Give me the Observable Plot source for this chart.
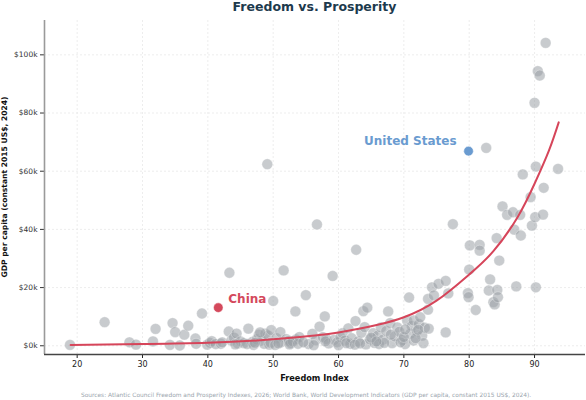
<!DOCTYPE html>
<html>
<head>
<meta charset="utf-8">
<script src="https://cdn.jsdelivr.net/npm/d3@7"></script>
<script src="https://cdn.jsdelivr.net/npm/@observablehq/plot@0.6"></script>
<style>
  html, body { margin: 0; padding: 0; background: #fff; }
  body { width: 586px; height: 400px; overflow: hidden; font-family: "DejaVu Sans", sans-serif; }
  #title { height: 12px; line-height: 13px; font-size: 12.5px; font-weight: bold; color: #1d3a4d;
           padding-left: 44px; padding-right: 1px; text-align: center; }
  #caption { height: 10px; line-height: 10px; font-size: 5.9px; color: #9aa5ae; text-align: center;
             padding-left: 26px; white-space: nowrap; }
  svg { display: block; }
</style>
</head>
<body>
<div id="title">Freedom vs. Prosperity</div>
<div id="chart"></div>
<div id="caption">Sources: Atlantic Council Freedom and Prosperity Indexes, 2026; World Bank, World Development Indicators (GDP per capita, constant 2015 US$, 2024).</div>
<script>
// Freedom Index score of each (unlabelled) country
const freedom = [
  18.9, 24.2, 28.0, 29.0, 31.6, 32.0, 34.2, 34.6, 35.0, 35.7, 36.4, 37.0, 38.1, 38.2, 39.1, 39.9,
  40.3, 40.6, 41.2, 42.0, 42.2, 43.2, 43.3, 43.6, 44.0, 44.4, 44.6, 45.0, 45.5, 46.2, 46.8, 47.5,
  47.8, 48.2, 48.6, 48.8, 49.2, 49.4, 49.7, 50.0, 49.1, 50.5, 51.1, 51.2, 51.6, 52.0, 52.4, 52.7,
  53.4, 53.5, 53.0, 54.0, 55.0, 55.4, 56.0, 56.5, 56.7, 57.1, 57.6, 57.9, 58.1, 58.5, 59.1, 59.3,
  59.8, 60.3, 60.6, 61.0, 61.5, 61.8, 62.0, 62.6, 62.7, 63.0, 63.5, 63.8, 64.0, 64.4, 64.2, 64.8,
  65.3, 65.5, 66.0, 66.5, 66.8, 67.3, 67.6, 67.9, 68.2, 68.6, 69.0, 69.3, 69.8, 70.2, 70.5, 70.8,
  71.0, 71.2, 71.5, 71.5, 72.0, 72.3, 72.5, 72.8, 73.0, 73.2, 73.7, 73.8, 73.7, 74.3, 74.6, 75.3,
  76.4, 76.4, 76.8, 77.5, 79.8, 79.9, 80.0, 80.1, 81.0, 81.6, 81.6, 82.6, 83.0, 83.2, 83.7, 83.9,
  84.2, 84.3, 84.4, 84.6, 85.1, 85.8, 86.7, 86.9, 87.2, 87.8, 87.9, 88.2, 89.4, 89.6, 90.0, 90.1,
  90.2, 90.2, 90.5, 90.8, 91.3, 91.4, 91.7, 93.6,
  44.2, 46.0, 47.0, 49.6, 50.3, 52.5, 53.8, 56.2, 58.0, 60.0, 61.2, 62.5, 63.3, 65.0, 66.2, 67.0,
  68.0, 69.5, 70.0, 71.8, 72.2, 70.2, 65.8, 54.6, 50.8, 48.0, 47.2
];
// GDP per capita, thousand constant 2015 US$
const gdpK = [
  0.3, 8.1, 1.2, 0.4, 1.5, 5.8, 0.3, 7.8, 4.7, 0.1, 3.8, 6.9, 2.5, 0.7, 11.1, 0.4,
  1.0, 1.6, 0.6, 0.7, 1.2, 4.9, 25.1, 1.8, 2.8, 4.2, 0.8, 1.5, 0.9, 5.9, 1.3, 2.2,
  3.8, 1.8, 0.7, 4.2, 3.6, 0.4, 5.4, 15.4, 62.4, 2.6, 4.7, 1.2, 25.9, 2.3, 1.7, 0.9,
  11.8, 2.2, 1.5, 3.0, 17.4, 0.6, 4.1, 1.9, 41.7, 6.6, 3.0, 10.1, 2.4, 0.8, 24.0, 2.0,
  1.2, 3.0, 4.3, 1.8, 6.0, 0.7, 2.6, 8.5, 33.0, 1.5, 4.5, 11.9, 6.4, 13.1, 0.5, 2.2,
  4.3, 1.0, 3.5, 6.3, 2.1, 5.1, 11.8, 7.8, 0.9, 3.2, 6.3, 4.8, 2.0, 0.6, 8.7, 16.6,
  4.2, 6.8, 8.7, 1.8, 4.9, 7.5, 9.8, 3.5, 0.9, 6.2, 12.4, 5.9, 16.1, 20.1, 17.3, 21.3,
  22.3, 4.6, 18.0, 41.8, 18.1, 16.7, 26.2, 34.5, 12.3, 34.7, 32.7, 68.0, 19.0, 22.8, 15.0, 14.2,
  37.0, 19.2, 16.7, 29.3, 47.9, 45.0, 45.9, 39.9, 20.4, 45.0, 37.9, 58.9, 51.1, 41.3, 83.5, 44.2,
  61.6, 20.1, 94.4, 92.9, 45.1, 54.3, 104.1, 60.8,
  0.5, 0.6, 0.3, 1.0, 0.3, 0.5, 0.7, 0.2, 1.5, 0.2, 0.9, 0.4, 0.8, 2.8, 0.6, 1.0,
  3.8, 1.2, 3.0, 2.6, 5.5, 5.6, 1.5, 1.2, 0.8, 4.6, 1.0
];
// Highlighted countries
const hlNames = ["China", "United States"];
const hlFreedom = [41.6, 79.9];
const hlGdpK = [13.1, 66.9];
const hlColors = ["#d4495c", "#6a9bd0"];
// Fitted trend
const trendX = [19, 30, 40, 50, 56.7, 60, 63.3, 66, 70, 75, 80, 83.7, 87.4, 90, 92.2, 93.7];
const trendY = [0.3, 0.6, 1.0, 2.2, 3.6, 4.6, 5.9, 7.2, 9.8, 15.5, 24.5, 32.5, 44.2, 55.7, 67.1, 76.8];
// Ticks
const xTicks = [20, 30, 40, 50, 60, 70, 80, 90];
const yTicks = [0, 20, 40, 60, 80, 100];

const countries = freedom.map((f, i) => ({freedom: f, gdp: gdpK[i]}));
const highlights = hlNames.map((n, i) => ({name: n, freedom: hlFreedom[i], gdp: hlGdpK[i], color: hlColors[i]}));
const trend = trendX.map((x, i) => ({x, y: trendY[i]}));

const xDomain = [15, 97.8];
const yDomain = [-3, 111.8];

const chart = Plot.plot({
  width: 586,
  height: 378,
  marginLeft: 44,
  marginRight: 1,
  marginTop: 8,
  marginBottom: 36,
  style: {fontFamily: "DejaVu Sans, sans-serif", background: "white"},
  x: {domain: xDomain, label: null},
  y: {domain: yDomain, label: null},
  marks: [
    Plot.gridX(xTicks, {stroke: "#e8e8e8", strokeOpacity: 1, strokeDasharray: "2,2", strokeWidth: 0.8}),
    Plot.gridY(yTicks, {stroke: "#e8e8e8", strokeOpacity: 1, strokeDasharray: "2,2", strokeWidth: 0.8}),
    Plot.dot(countries, {x: "freedom", y: "gdp", r: 5.4, fill: "#9ba1a5", fillOpacity: 0.55, stroke: "white", strokeOpacity: 0.6, strokeWidth: 0.5}),
    Plot.line(trend, {x: "x", y: "y", stroke: "#d6455a", strokeWidth: 2, curve: "natural"}),
    Plot.dot(highlights, {x: "freedom", y: "gdp", r: 4.8, fill: "color", stroke: "white", strokeWidth: 0.5}),
    Plot.text(highlights.filter(d => d.name === "China"), {x: "freedom", y: "gdp", text: "name", fill: "color", fontSize: 12, fontWeight: "bold", textAnchor: "start", dx: 10, dy: -9}),
    Plot.text(highlights.filter(d => d.name === "United States"), {x: "freedom", y: "gdp", text: "name", fill: "color", fontSize: 12, fontWeight: "bold", textAnchor: "end", dx: -12, dy: -10}),
    Plot.axisX(xTicks, {tickSize: 4, tickPadding: 3, fontSize: 8, color: "#222", label: null}),
    Plot.axisY(yTicks, {tickSize: 4, tickPadding: 3, fontSize: 7.5, color: "#333", tickFormat: d => `$${d}k`, label: null}),
    Plot.ruleX([xDomain[0]], {stroke: "#9a9a9a", strokeWidth: 1.6}),
    Plot.ruleY([yDomain[0]], {stroke: "#444", strokeWidth: 1.6})
  ]
});

const svg = d3.select(chart);
svg.append("text")
  .attr("x", (44 + 585) / 2)
  .attr("y", 366)
  .attr("text-anchor", "middle")
  .attr("dominant-baseline", "middle")
  .attr("font-size", 8.2)
  .attr("font-weight", "bold")
  .attr("fill", "#111")
  .text("Freedom Index");
svg.append("text")
  .attr("transform", `translate(5,${(8 + 342) / 2}) rotate(-90)`)
  .attr("text-anchor", "middle")
  .attr("dominant-baseline", "middle")
  .attr("font-size", 7.6)
  .attr("font-weight", "bold")
  .attr("fill", "#111")
  .text("GDP per capita (constant 2015 US$, 2024)");

document.getElementById("chart").appendChild(chart);
</script>
</body>
</html>
